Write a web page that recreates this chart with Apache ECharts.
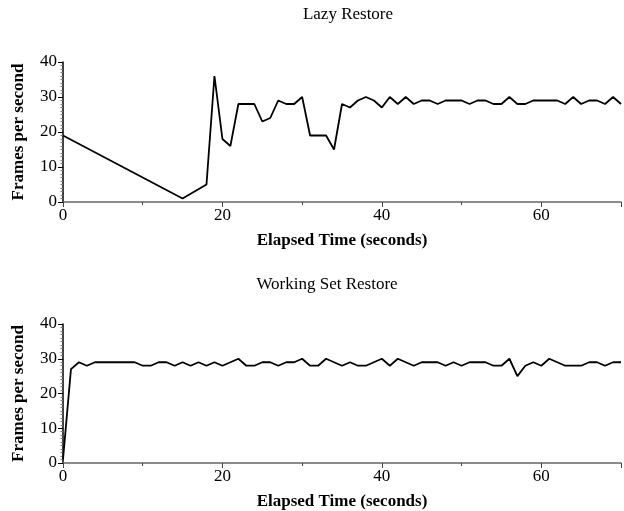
<!DOCTYPE html>
<html>
<head>
<meta charset="utf-8">
<script src="https://cdn.jsdelivr.net/npm/echarts@6/dist/echarts.min.js"></script>
<style>
  html, body { margin: 0; padding: 0; background: #fff; }
  #chart { width: 624px; height: 511px; }
</style>
</head>
<body>
<div id="chart"></div>
<script>
// Frame rate over time for two restore strategies
const lazyTime = [0, 15, 18, 19, 20, 21, 22, 23, 24, 25, 26, 27, 28, 29, 30, 31, 32, 33, 34, 35, 36, 37, 38, 39,
  40, 41, 42, 43, 44, 45, 46, 47, 48, 49, 50, 51, 52, 53, 54, 55, 56, 57, 58, 59, 60, 61, 62, 63, 64, 65, 66, 67, 68, 69, 70];
const lazyFps = [19, 1, 5, 36, 18, 16, 28, 28, 28, 23, 24, 29, 28, 28, 30, 19, 19, 19, 15, 28, 27, 29, 30, 29,
  27, 30, 28, 30, 28, 29, 29, 28, 29, 29, 29, 28, 29, 29, 28, 28, 30, 28, 28, 29, 29, 29, 29, 28, 30, 28, 29, 29, 28, 30, 28];

const wsTime = [0, 1, 2, 3, 4, 5, 6, 7, 8, 9, 10, 11, 12, 13, 14, 15, 16, 17, 18, 19, 20, 21, 22, 23, 24, 25, 26, 27, 28, 29,
  30, 31, 32, 33, 34, 35, 36, 37, 38, 39, 40, 41, 42, 43, 44, 45, 46, 47, 48, 49, 50, 51, 52, 53, 54, 55, 56, 57, 58, 59,
  60, 61, 62, 63, 64, 65, 66, 67, 68, 69, 70];
const wsFps = [1, 27, 29, 28, 29, 29, 29, 29, 29, 29, 28, 28, 29, 29, 28, 29, 28, 29, 28, 29, 28, 29, 30, 28, 28, 29, 29, 28, 29, 29,
  30, 28, 28, 30, 29, 28, 29, 28, 28, 29, 30, 28, 30, 29, 28, 29, 29, 29, 28, 29, 28, 29, 29, 29, 28, 28, 30, 25, 28, 29,
  28, 30, 29, 28, 28, 28, 29, 29, 28, 29, 29];

const panelTitles = ['Lazy Restore', 'Working Set Restore'];
const xName = 'Elapsed Time (seconds)';
const yName = 'Frames per second';

const FONT = '"Liberation Serif", "Times New Roman", serif';

function zip(xs, ys) { return xs.map((x, i) => [x, ys[i]]); }

const grids = [
  { left: 63, right: 0, top: 62, height: 140 },
  { left: 63, right: 0, top: 324, height: 140 }
];

const xAxes = [];
const yAxes = [];
grids.forEach((g, i) => {
  // labelled axis with major ticks every 20 s
  xAxes.push({
    type: 'value', gridIndex: i, min: 0, max: 70, interval: 20, position: 'bottom',
    name: xName, nameLocation: 'middle', nameGap: 30,
    nameTextStyle: { fontFamily: FONT, fontSize: 17, fontWeight: 'bold', color: '#000' },
    axisLine: { show: true, lineStyle: { color: '#666', width: 1.5 } },
    axisTick: { show: true, length: 5, lineStyle: { color: '#444', width: 1 } },
    axisLabel: { fontFamily: FONT, fontSize: 17, color: '#000', margin: 5,
      formatter: v => (v % 20 === 0 ? String(v) : '') },
    splitLine: { show: false }
  });
  // short ticks every 10 s
  xAxes.push({
    type: 'value', gridIndex: i, min: 0, max: 70, interval: 10, position: 'bottom',
    axisLine: { show: false },
    axisTick: { show: true, length: 3, lineStyle: { color: '#444', width: 1 } },
    axisLabel: { show: false },
    splitLine: { show: false }
  });
  yAxes.push({
    type: 'value', gridIndex: i, min: 0, max: 40, interval: 10,
    name: yName, nameLocation: 'middle', nameGap: 36,
    nameTextStyle: { fontFamily: FONT, fontSize: 17, fontWeight: 'bold', color: '#000' },
    axisLine: { show: true, lineStyle: { color: '#000', width: 1.5 } },
    axisTick: { show: true, length: 5, lineStyle: { color: '#000', width: 1 } },
    minorTick: { show: true, splitNumber: 10, length: 2.5, lineStyle: { color: '#777', width: 1 } },
    axisLabel: { fontFamily: FONT, fontSize: 17, color: '#000', margin: 6 },
    splitLine: { show: false }
  });
});

const chart = echarts.init(document.getElementById('chart'), null, { renderer: 'canvas' });
chart.setOption({
  animation: false,
  backgroundColor: '#fff',
  title: [
    { text: panelTitles[0], left: 343, top: 1, textAlign: 'center',
      textStyle: { fontFamily: FONT, fontSize: 17, fontWeight: 'normal', color: '#000' } },
    { text: panelTitles[1], left: 322, top: 271, textAlign: 'center',
      textStyle: { fontFamily: FONT, fontSize: 17, fontWeight: 'normal', color: '#000' } }
  ],
  grid: grids,
  xAxis: xAxes,
  yAxis: yAxes,
  series: [
    { type: 'line', xAxisIndex: 0, yAxisIndex: 0, data: zip(lazyTime, lazyFps),
      showSymbol: false, symbol: 'none', lineStyle: { color: '#000', width: 1.8 } },
    { type: 'line', xAxisIndex: 2, yAxisIndex: 1, data: zip(wsTime, wsFps),
      showSymbol: false, symbol: 'none', lineStyle: { color: '#000', width: 1.8 } }
  ]
});
</script>
</body>
</html>
